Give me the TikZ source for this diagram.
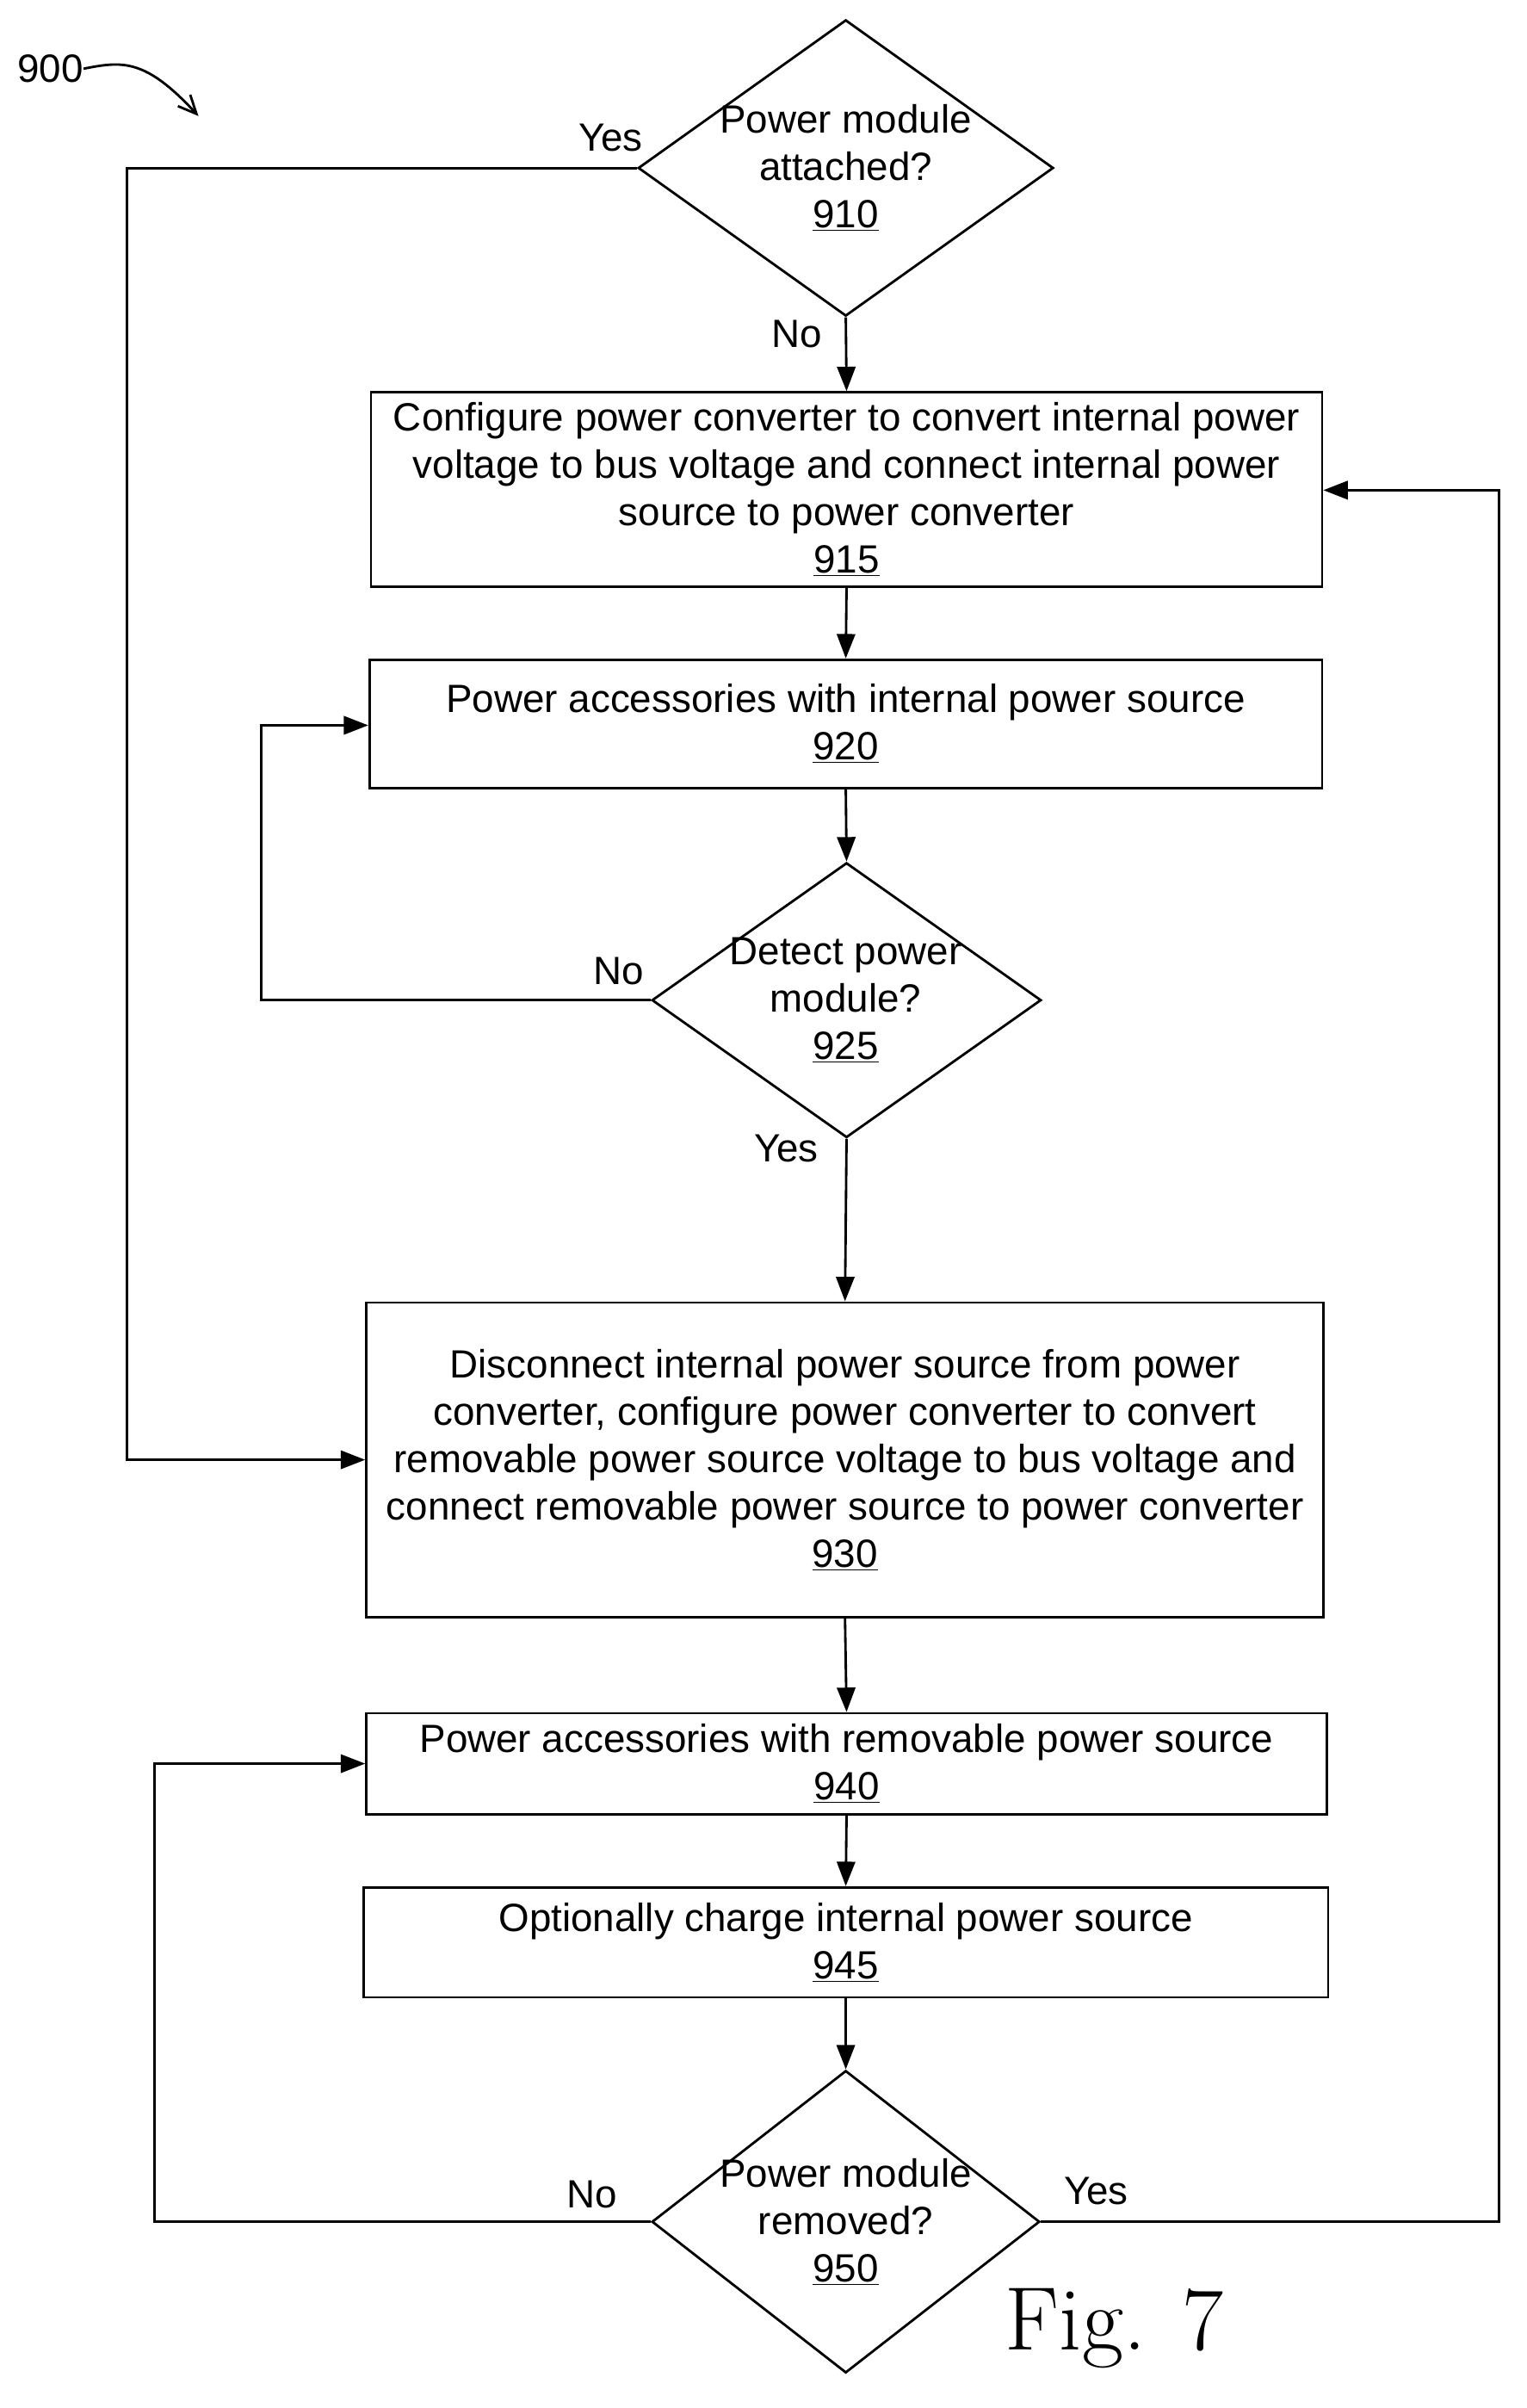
\documentclass[tikz,border=0pt]{standalone}
\usepackage{fontspec}
\setmainfont{Liberation Sans}
\usetikzlibrary{shapes.geometric,arrows.meta}
\begin{document}
\begin{tikzpicture}[x=1pt,y=-1pt,
  every node/.style={font=\fontsize{25.8}{31}\selectfont},
  box/.style={draw,line width=1.6pt,inner sep=0,align=center},
  dia/.style={draw,diamond,line width=1.6pt,inner sep=0},
  txt/.style={align=center,inner sep=0},
  ar/.style={line width=1.6pt,-{Triangle[length=16,width=12]}},
  lab/.style={inner sep=0}]
\useasboundingbox (0,0) rectangle (1000,1577);
\node[lab] (n900) at (33,45) {900};
\coordinate (c900) at (130,76);
\draw[line width=1.6pt,-{Straight Barb[length=12,width=11]}] (n900.east) .. controls (80,40) and (95,38) .. (c900);
\node[dia,minimum width=272,minimum height=194] (d910) at (554,110) {};
\node[txt] at (554,110) {Power module\\attached?\\\underline{910}};
\node[box,minimum width=623,minimum height=127] (b915) at (554.5,320.5) {Configure power converter to convert internal power\\voltage to bus voltage and connect internal power\\source to power converter\\\underline{915}};
\node[box,minimum width=624,minimum height=84] (b920) at (554,474) {Power accessories with internal power source\\\underline{920}};
\node[dia,minimum width=255,minimum height=180] (d925) at (554.5,655) {};
\node[txt] at (554,655) {Detect power\\module?\\\underline{925}};
\node[box,minimum width=627,minimum height=206] (b930) at (553.5,956) {Disconnect internal power source from power\\converter, configure power converter to convert\\removable power source voltage to bus voltage and\\connect removable power source to power converter\\\underline{930}};
\node[box,minimum width=629,minimum height=66] (b940) at (554.5,1155) {Power accessories with removable power source\\\underline{940}};
\node[box,minimum width=632,minimum height=72] (b945) at (554,1272) {Optionally charge internal power source\\\underline{945}};
\node[dia,minimum width=254,minimum height=198] (d950) at (554,1455) {};
\node[txt] at (554,1455) {Power module\\removed?\\\underline{950}};
\node[lab] at (400,90) {Yes};
\node[lab] at (522,219) {No};
\node[lab] at (405,636) {No};
\node[lab] at (515,752) {Yes};
\node[lab] at (388,1437) {No};
\node[lab] at (718,1435) {Yes};
\node[lab,font=\fontfamily{lmr}\fontsize{59}{66}\selectfont] at (730,1525) {Fig. 7};
\draw[ar] (d910.south) -- (b915.north);
\draw[ar] (b915.south) -- (b920.north);
\draw[ar] (b920.south) -- (d925.north);
\draw[ar] (d925.south) -- (b930.north);
\draw[ar] (b930.south) -- (b940.north);
\draw[ar] (b940.south) -- (b945.north);
\draw[ar] (b945.south) -- (d950.north);
\draw[ar] (d910.west) -- (83,110) -- (83,956) -- (b930.west);
\draw[ar] (d925.west) -- (171,655) -- (171,475) -- (b920.west |- 0,475);
\draw[ar] (d950.west) -- (101,1455) -- (101,1155) -- (b940.west);
\draw[ar] (d950.east) -- (982,1455) -- (982,321) -- (b915.east |- 0,321);
\end{tikzpicture}
\end{document}
